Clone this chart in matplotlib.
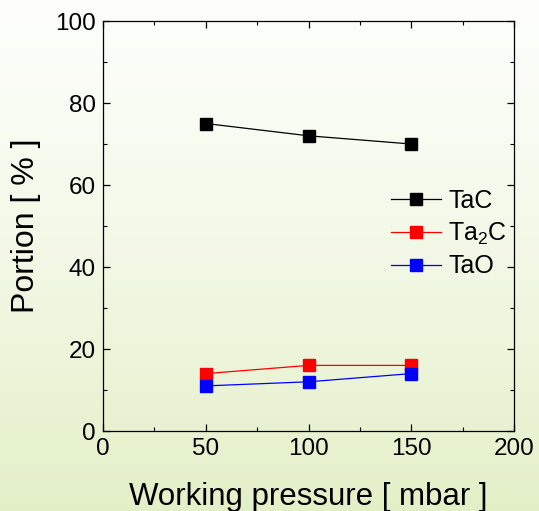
import matplotlib.pyplot as plt
import numpy as np
from matplotlib.ticker import MultipleLocator

plt.rcParams['font.family'] = ['Liberation Sans', 'DejaVu Sans']
plt.rcParams['mathtext.fontset'] = 'custom'
plt.rcParams['mathtext.rm'] = 'Liberation Sans'
plt.rcParams['mathtext.it'] = 'Liberation Sans:italic'

pressure = [50, 100, 150]
tac = [75, 72, 70]
ta2c = [14, 16, 16]
tao = [11, 12, 14]

fig = plt.figure(figsize=(5.39, 5.11), dpi=100)

# slide background: soft vertical gradient
bg = fig.add_axes([0, 0, 1, 1], zorder=-10)
grad = np.linspace(0, 1, 256).reshape(-1, 1)
c_top = np.array([0.99, 0.995, 0.98])
c_bot = np.array([0.89, 0.94, 0.78])
img = c_top + (c_bot - c_top) * grad[:, :, None] ** 1.3
bg.imshow(img, aspect='auto', extent=[0, 1, 0, 1])
bg.axis('off')

ax = fig.add_axes([103 / 539, 1 - 431 / 511, 411 / 539, 410 / 511])
ax.patch.set_alpha(0)

ax.plot(pressure, tac, color='black', lw=0.9, marker='s', ms=9, label='TaC')
ax.plot(pressure, ta2c, color='red', lw=0.9, marker='s', ms=9, label='Ta$_\\mathrm{2}$C')
ax.plot(pressure, tao, color='blue', lw=0.9, marker='s', ms=9, label='TaO')

ax.set_xlim(0, 200)
ax.set_ylim(0, 100)
ax.xaxis.set_major_locator(MultipleLocator(50))
ax.xaxis.set_minor_locator(MultipleLocator(25))
ax.yaxis.set_major_locator(MultipleLocator(20))
ax.yaxis.set_minor_locator(MultipleLocator(10))
ax.tick_params(which='both', direction='in', top=True, right=True, labelsize=17.5)
ax.tick_params(which='major', length=5, width=0.9, pad=5)
ax.tick_params(which='minor', length=3, width=0.8)
for s in ax.spines.values():
    s.set_linewidth(0.9)

ax.set_xlabel('Working pressure [ mbar ]', fontsize=22.5, labelpad=16)
ax.set_ylabel('Portion [ % ]', fontsize=23, labelpad=10)

ax.legend(loc='upper left', bbox_to_anchor=(0.645, 0.645), frameon=False,
          fontsize=18, handlelength=2.0, handletextpad=0.3, labelspacing=0.3)

fig.savefig('out.png', dpi=100)
